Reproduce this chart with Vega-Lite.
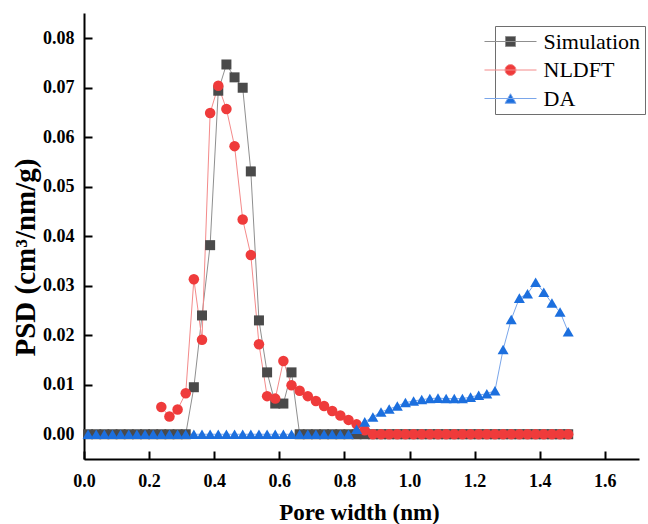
{
  "$schema": "https://vega.github.io/schema/vega-lite/v6.json",
  "width": 555,
  "height": 446,
  "autosize": {"type": "none"},
  "padding": {"left": 84, "top": 13, "right": 9, "bottom": 65},
  "background": "white",
  "config": {
    "view": {"stroke": null},
    "axis": {
      "grid": false,
      "domainColor": "black",
      "domainWidth": 2,
      "tickColor": "black",
      "tickWidth": 2,
      "labelFont": "Liberation Serif",
      "labelFontWeight": "bold",
      "labelFontSize": 18,
      "labelColor": "black",
      "labelFlush": false,
      "titleFont": "Liberation Serif",
      "titleFontWeight": "bold",
      "titleColor": "black"
    },
    "legend": {
      "labelFont": "Liberation Serif",
      "labelFontSize": 22,
      "labelColor": "black",
      "symbolSize": 484,
      "symbolStrokeWidth": 1
    }
  },
  "data": {
    "values": [
      {"series": "Simulation", "x": 0.0125, "y": 0},
      {"series": "Simulation", "x": 0.0375, "y": 0},
      {"series": "Simulation", "x": 0.0625, "y": 0},
      {"series": "Simulation", "x": 0.0875, "y": 0},
      {"series": "Simulation", "x": 0.1125, "y": 0},
      {"series": "Simulation", "x": 0.1375, "y": 0},
      {"series": "Simulation", "x": 0.1625, "y": 0},
      {"series": "Simulation", "x": 0.1875, "y": 0},
      {"series": "Simulation", "x": 0.2125, "y": 0},
      {"series": "Simulation", "x": 0.2375, "y": 0},
      {"series": "Simulation", "x": 0.2625, "y": 0},
      {"series": "Simulation", "x": 0.2875, "y": 0},
      {"series": "Simulation", "x": 0.3125, "y": 0},
      {"series": "Simulation", "x": 0.3375, "y": 0.0095},
      {"series": "Simulation", "x": 0.3625, "y": 0.0240},
      {"series": "Simulation", "x": 0.3875, "y": 0.0382},
      {"series": "Simulation", "x": 0.4125, "y": 0.0694},
      {"series": "Simulation", "x": 0.4375, "y": 0.0747},
      {"series": "Simulation", "x": 0.4625, "y": 0.0721},
      {"series": "Simulation", "x": 0.4875, "y": 0.0700},
      {"series": "Simulation", "x": 0.5125, "y": 0.0531},
      {"series": "Simulation", "x": 0.5375, "y": 0.0230},
      {"series": "Simulation", "x": 0.5625, "y": 0.0125},
      {"series": "Simulation", "x": 0.5875, "y": 0.0062},
      {"series": "Simulation", "x": 0.6125, "y": 0.0062},
      {"series": "Simulation", "x": 0.6375, "y": 0.0125},
      {"series": "Simulation", "x": 0.6625, "y": 0},
      {"series": "Simulation", "x": 0.6875, "y": 0},
      {"series": "Simulation", "x": 0.7125, "y": 0},
      {"series": "Simulation", "x": 0.7375, "y": 0},
      {"series": "Simulation", "x": 0.7625, "y": 0},
      {"series": "Simulation", "x": 0.7875, "y": 0},
      {"series": "Simulation", "x": 0.8125, "y": 0},
      {"series": "Simulation", "x": 0.8375, "y": 0},
      {"series": "Simulation", "x": 0.8625, "y": 0},
      {"series": "Simulation", "x": 0.8875, "y": 0},
      {"series": "Simulation", "x": 0.9125, "y": 0},
      {"series": "Simulation", "x": 0.9375, "y": 0},
      {"series": "Simulation", "x": 0.9625, "y": 0},
      {"series": "Simulation", "x": 0.9875, "y": 0},
      {"series": "Simulation", "x": 1.0125, "y": 0},
      {"series": "Simulation", "x": 1.0375, "y": 0},
      {"series": "Simulation", "x": 1.0625, "y": 0},
      {"series": "Simulation", "x": 1.0875, "y": 0},
      {"series": "Simulation", "x": 1.1125, "y": 0},
      {"series": "Simulation", "x": 1.1375, "y": 0},
      {"series": "Simulation", "x": 1.1625, "y": 0},
      {"series": "Simulation", "x": 1.1875, "y": 0},
      {"series": "Simulation", "x": 1.2125, "y": 0},
      {"series": "Simulation", "x": 1.2375, "y": 0},
      {"series": "Simulation", "x": 1.2625, "y": 0},
      {"series": "Simulation", "x": 1.2875, "y": 0},
      {"series": "Simulation", "x": 1.3125, "y": 0},
      {"series": "Simulation", "x": 1.3375, "y": 0},
      {"series": "Simulation", "x": 1.3625, "y": 0},
      {"series": "Simulation", "x": 1.3875, "y": 0},
      {"series": "Simulation", "x": 1.4125, "y": 0},
      {"series": "Simulation", "x": 1.4375, "y": 0},
      {"series": "Simulation", "x": 1.4625, "y": 0},
      {"series": "Simulation", "x": 1.4875, "y": 0},
      {"series": "NLDFT", "x": 0.2375, "y": 0.0055},
      {"series": "NLDFT", "x": 0.2625, "y": 0.0036},
      {"series": "NLDFT", "x": 0.2875, "y": 0.0050},
      {"series": "NLDFT", "x": 0.3125, "y": 0.0083},
      {"series": "NLDFT", "x": 0.3375, "y": 0.0313},
      {"series": "NLDFT", "x": 0.3625, "y": 0.0191},
      {"series": "NLDFT", "x": 0.3875, "y": 0.0649},
      {"series": "NLDFT", "x": 0.4125, "y": 0.0704},
      {"series": "NLDFT", "x": 0.4375, "y": 0.0657},
      {"series": "NLDFT", "x": 0.4625, "y": 0.0582},
      {"series": "NLDFT", "x": 0.4875, "y": 0.0434},
      {"series": "NLDFT", "x": 0.5125, "y": 0.0362},
      {"series": "NLDFT", "x": 0.5375, "y": 0.0182},
      {"series": "NLDFT", "x": 0.5625, "y": 0.0077},
      {"series": "NLDFT", "x": 0.5875, "y": 0.0072},
      {"series": "NLDFT", "x": 0.6125, "y": 0.0148},
      {"series": "NLDFT", "x": 0.6375, "y": 0.0099},
      {"series": "NLDFT", "x": 0.6625, "y": 0.0088},
      {"series": "NLDFT", "x": 0.6875, "y": 0.0077},
      {"series": "NLDFT", "x": 0.7125, "y": 0.0067},
      {"series": "NLDFT", "x": 0.7375, "y": 0.0057},
      {"series": "NLDFT", "x": 0.7625, "y": 0.0047},
      {"series": "NLDFT", "x": 0.7875, "y": 0.0038},
      {"series": "NLDFT", "x": 0.8125, "y": 0.0029},
      {"series": "NLDFT", "x": 0.8375, "y": 0.0020},
      {"series": "NLDFT", "x": 0.8625, "y": 0.0008},
      {"series": "NLDFT", "x": 0.8875, "y": 0},
      {"series": "NLDFT", "x": 0.9125, "y": 0},
      {"series": "NLDFT", "x": 0.9375, "y": 0},
      {"series": "NLDFT", "x": 0.9625, "y": 0},
      {"series": "NLDFT", "x": 0.9875, "y": 0},
      {"series": "NLDFT", "x": 1.0125, "y": 0},
      {"series": "NLDFT", "x": 1.0375, "y": 0},
      {"series": "NLDFT", "x": 1.0625, "y": 0},
      {"series": "NLDFT", "x": 1.0875, "y": 0},
      {"series": "NLDFT", "x": 1.1125, "y": 0},
      {"series": "NLDFT", "x": 1.1375, "y": 0},
      {"series": "NLDFT", "x": 1.1625, "y": 0},
      {"series": "NLDFT", "x": 1.1875, "y": 0},
      {"series": "NLDFT", "x": 1.2125, "y": 0},
      {"series": "NLDFT", "x": 1.2375, "y": 0},
      {"series": "NLDFT", "x": 1.2625, "y": 0},
      {"series": "NLDFT", "x": 1.2875, "y": 0},
      {"series": "NLDFT", "x": 1.3125, "y": 0},
      {"series": "NLDFT", "x": 1.3375, "y": 0},
      {"series": "NLDFT", "x": 1.3625, "y": 0},
      {"series": "NLDFT", "x": 1.3875, "y": 0},
      {"series": "NLDFT", "x": 1.4125, "y": 0},
      {"series": "NLDFT", "x": 1.4375, "y": 0},
      {"series": "NLDFT", "x": 1.4625, "y": 0},
      {"series": "NLDFT", "x": 1.4875, "y": 0},
      {"series": "DA", "x": 0.0125, "y": 0},
      {"series": "DA", "x": 0.0375, "y": 0},
      {"series": "DA", "x": 0.0625, "y": 0},
      {"series": "DA", "x": 0.0875, "y": 0},
      {"series": "DA", "x": 0.1125, "y": 0},
      {"series": "DA", "x": 0.1375, "y": 0},
      {"series": "DA", "x": 0.1625, "y": 0},
      {"series": "DA", "x": 0.1875, "y": 0},
      {"series": "DA", "x": 0.2125, "y": 0},
      {"series": "DA", "x": 0.2375, "y": 0},
      {"series": "DA", "x": 0.2625, "y": 0},
      {"series": "DA", "x": 0.2875, "y": 0},
      {"series": "DA", "x": 0.3125, "y": 0},
      {"series": "DA", "x": 0.3375, "y": 0},
      {"series": "DA", "x": 0.3625, "y": 0},
      {"series": "DA", "x": 0.3875, "y": 0},
      {"series": "DA", "x": 0.4125, "y": 0},
      {"series": "DA", "x": 0.4375, "y": 0},
      {"series": "DA", "x": 0.4625, "y": 0},
      {"series": "DA", "x": 0.4875, "y": 0},
      {"series": "DA", "x": 0.5125, "y": 0},
      {"series": "DA", "x": 0.5375, "y": 0},
      {"series": "DA", "x": 0.5625, "y": 0},
      {"series": "DA", "x": 0.5875, "y": 0},
      {"series": "DA", "x": 0.6125, "y": 0},
      {"series": "DA", "x": 0.6375, "y": 0},
      {"series": "DA", "x": 0.6625, "y": 0},
      {"series": "DA", "x": 0.6875, "y": 0},
      {"series": "DA", "x": 0.7125, "y": 0},
      {"series": "DA", "x": 0.7375, "y": 0},
      {"series": "DA", "x": 0.7625, "y": 0},
      {"series": "DA", "x": 0.7875, "y": 0},
      {"series": "DA", "x": 0.8125, "y": 0},
      {"series": "DA", "x": 0.8375, "y": 0.0010},
      {"series": "DA", "x": 0.8625, "y": 0.0025},
      {"series": "DA", "x": 0.8875, "y": 0.0035},
      {"series": "DA", "x": 0.9125, "y": 0.0045},
      {"series": "DA", "x": 0.9375, "y": 0.0051},
      {"series": "DA", "x": 0.9625, "y": 0.0057},
      {"series": "DA", "x": 0.9875, "y": 0.0064},
      {"series": "DA", "x": 1.0125, "y": 0.0067},
      {"series": "DA", "x": 1.0375, "y": 0.0070},
      {"series": "DA", "x": 1.0625, "y": 0.0072},
      {"series": "DA", "x": 1.0875, "y": 0.0073},
      {"series": "DA", "x": 1.1125, "y": 0.0072},
      {"series": "DA", "x": 1.1375, "y": 0.0072},
      {"series": "DA", "x": 1.1625, "y": 0.0072},
      {"series": "DA", "x": 1.1875, "y": 0.0075},
      {"series": "DA", "x": 1.2125, "y": 0.0079},
      {"series": "DA", "x": 1.2375, "y": 0.0082},
      {"series": "DA", "x": 1.2625, "y": 0.0088},
      {"series": "DA", "x": 1.2875, "y": 0.0171},
      {"series": "DA", "x": 1.3125, "y": 0.0232},
      {"series": "DA", "x": 1.3375, "y": 0.0275},
      {"series": "DA", "x": 1.3625, "y": 0.0284},
      {"series": "DA", "x": 1.3875, "y": 0.0307},
      {"series": "DA", "x": 1.4125, "y": 0.0287},
      {"series": "DA", "x": 1.4375, "y": 0.0265},
      {"series": "DA", "x": 1.4625, "y": 0.0247},
      {"series": "DA", "x": 1.4875, "y": 0.0207}
    ]
  },
  "encoding": {
    "x": {
      "field": "x",
      "type": "quantitative",
      "scale": {"domain": [0, 1.705], "nice": false, "zero": false},
      "axis": {
        "title": "Pore width (nm)",
        "titleFontSize": 23,
        "values": [0, 0.2, 0.4, 0.6, 0.8, 1.0, 1.2, 1.4, 1.6],
        "format": ".1f",
        "tickSize": -8,
        "labelPadding": 21,
        "titleX": 275,
        "titleY": 60,
        "titleBaseline": "alphabetic",
        "titleAnchor": null
      }
    },
    "y": {
      "field": "y",
      "type": "quantitative",
      "scale": {"domain": [-0.005, 0.0851], "nice": false, "zero": false},
      "axis": {
        "title": "PSD (cm³/nm/g)",
        "titleFontSize": 29,
        "values": [0, 0.01, 0.02, 0.03, 0.04, 0.05, 0.06, 0.07, 0.08],
        "format": ".2f",
        "tickSize": -8,
        "labelPadding": 18,
        "titleX": -50,
        "titleY": 244,
        "titleAlign": "center",
        "titleBaseline": "alphabetic",
        "titleAnchor": null
      }
    }
  },
  "layer": [
    {
      "mark": {"type": "line", "strokeWidth": 1},
      "encoding": {
        "color": {
          "field": "series",
          "type": "nominal",
          "scale": {"domain": ["Simulation", "NLDFT", "DA"], "range": ["#8f8f8f", "#f48a8a", "#7aa6ea"]},
          "legend": null
        }
      }
    },
    {
      "mark": {"type": "point", "filled": true, "opacity": 1, "strokeWidth": 0},
      "encoding": {
        "fill": {
          "field": "series",
          "type": "nominal",
          "scale": {"domain": ["Simulation", "NLDFT", "DA"], "range": ["#4a4a4a", "#ef3b3b", "#1c6fde"]},
          "legend": null
        },
        "shape": {
          "field": "series",
          "type": "nominal",
          "scale": {"domain": ["Simulation", "NLDFT", "DA"], "range": ["square", "circle", "triangle-up"]},
          "legend": null
        },
        "size": {
          "field": "series",
          "type": "nominal",
          "scale": {"domain": ["Simulation", "NLDFT", "DA"], "range": [100, 121, 125]},
          "legend": null
        }
      }
    },
    {
      "transform": [{"filter": "false"}],
      "mark": {"type": "point", "filled": true, "opacity": 1},
      "encoding": {
        "fill": {
          "field": "series",
          "type": "nominal",
          "scale": {"domain": ["Simulation", "NLDFT", "DA"], "range": ["#4a4a4a", "#ef3b3b", "#1c6fde"]},
          "legend": {
            "title": null,
            "orient": "none",
            "legendX": 411,
            "legendY": 13,
            "padding": 4,
            "rowPadding": 5.5,
            "labelOffset": 21.5,
            "labelFont": "Liberation Serif",
            "labelFontSize": 22,
            "strokeColor": "#6e6e6e",
            "fillColor": "white"
          }
        },
        "stroke": {
          "field": "series",
          "type": "nominal",
          "scale": {"domain": ["Simulation", "NLDFT", "DA"], "range": ["#8f8f8f", "#f48a8a", "#7aa6ea"]}
        },
        "shape": {
          "field": "series",
          "type": "nominal",
          "scale": {
            "domain": ["Simulation", "NLDFT", "DA"],
            "range": [
              "M-2.364,0H2.364M-0.4545,-0.4545H0.4545V0.4545H-0.4545Z",
              "M-2.364,0H2.364M0.5,0A0.5,0.5 0 1,1 -0.5,0A0.5,0.5 0 1,1 0.5,0Z",
              "M-2.364,0H2.364M0,-0.432L0.5,0.432L-0.5,0.432Z"
            ]
          }
        }
      }
    }
  ],
  "resolve": {"scale": {"fill": "independent", "shape": "independent", "stroke": "independent"}}
}
